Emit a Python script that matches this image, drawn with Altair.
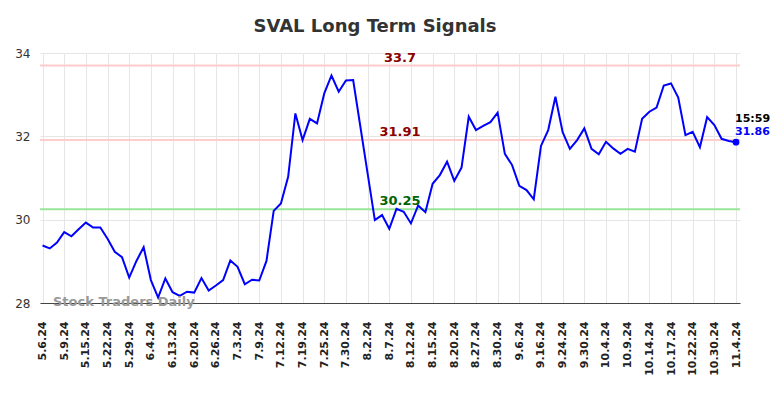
import altair as alt
import pandas as pd

values = [29.38, 29.31, 29.45, 29.70, 29.60, 29.77, 29.93, 29.81, 29.81, 29.54,
          29.23, 29.10, 28.61, 29.01, 29.34, 28.55, 28.13, 28.59, 28.26, 28.17,
          28.27, 28.25, 28.60, 28.30, 28.42, 28.55, 29.02, 28.87, 28.45, 28.56,
          28.54, 29.01, 30.21, 30.39, 31.03, 32.55, 31.91, 32.42, 32.31, 33.03,
          33.46, 33.07, 33.34, 33.35, 32.23, 31.11, 29.99, 30.11, 29.78, 30.26,
          30.19, 29.91, 30.34, 30.18, 30.86, 31.07, 31.39, 30.93, 31.25, 32.47,
          32.15, 32.25, 32.34, 32.57, 31.58, 31.31, 30.81, 30.71, 30.49, 31.77,
          32.15, 32.95, 32.10, 31.70, 31.91, 32.19, 31.70, 31.57, 31.87, 31.71,
          31.58, 31.70, 31.63, 32.42, 32.59, 32.69, 33.22, 33.27, 32.93, 32.03,
          32.11, 31.74, 32.46, 32.27, 31.94, 31.89, 31.86]

tick_labels = ["5.6.24", "5.9.24", "5.15.24", "5.22.24", "5.29.24", "6.4.24",
               "6.13.24", "6.20.24", "6.26.24", "7.3.24", "7.9.24", "7.12.24",
               "7.19.24", "7.25.24", "7.30.24", "8.2.24", "8.7.24", "8.12.24",
               "8.15.24", "8.20.24", "8.27.24", "8.30.24", "9.6.24", "9.16.24",
               "9.24.24", "9.30.24", "10.4.24", "10.9.24", "10.14.24", "10.17.24",
               "10.22.24", "10.30.24", "11.4.24"]

level_values = [33.7, 31.91, 30.25]
level_labels = ["33.7", "31.91", "30.25"]
level_line_colors = ["#ffcccc", "#ffcccc", "#99e699"]
level_text_colors = ["#8b0000", "#8b0000", "#006400"]

last_time = "15:59"
watermark = "Stock Traders Daily"

df = pd.DataFrame({"i": list(range(len(values))), "v": values})
levels = pd.DataFrame({"v": level_values, "label": level_labels,
                       "lc": level_line_colors, "tc": level_text_colors})
last = df.tail(1).copy()
last["lbl"] = [f"{values[-1]:.2f}"]
last["time"] = [last_time]

arr = "[" + ",".join(f"'{t}'" for t in tick_labels) + "]"

xscale = alt.Scale(domain=[-0.35, 96.55], nice=False, zero=False)
yscale = alt.Scale(domain=[28, 34], nice=False, zero=False)

xaxis = alt.Axis(values=list(range(0, 97, 3)), tickCount=100,
                 labelExpr=f"{arr}[round(datum.value/3)]",
                 labelAngle=-90, labelAlign="right", labelBaseline="middle",
                 labelPadding=18, ticks=False, title=None, domainColor="#444444",
                 domainWidth=1.2, gridColor="#e6e6e6", labelFontSize=11,
                 labelOverlap=False, labelBound=False, labelFlush=False,
                 labelColor="#222222", labelFont="DejaVu Sans", labelFontWeight="bold")
yaxis = alt.Axis(values=[28, 30, 32, 34], ticks=False, title=None, domain=False,
                 labelPadding=10, gridColor="#e6e6e6", labelFontSize=12,
                 labelColor="#333333", labelFont="DejaVu Sans")

base = alt.Chart(df)

grid = base.mark_line(opacity=0).encode(
    x=alt.X("i:Q", scale=xscale, axis=xaxis),
    y=alt.Y("v:Q", scale=yscale, axis=yaxis),
)

rules = alt.Chart(levels).mark_rule(strokeWidth=2).encode(
    y=alt.Y("v:Q", scale=yscale),
    color=alt.Color("lc:N", scale=None),
)

level_text = alt.Chart(levels).mark_text(
    fontSize=13, fontWeight="bold", font="DejaVu Sans", dy=-8, baseline="middle"
).encode(
    x=alt.value(360),
    y=alt.Y("v:Q", scale=yscale),
    text="label:N",
    color=alt.Color("tc:N", scale=None),
)

line = base.mark_line(color="#0000ff", strokeWidth=2).encode(
    x=alt.X("i:Q", scale=xscale),
    y=alt.Y("v:Q", scale=yscale),
)

dot = alt.Chart(last).mark_point(filled=True, size=45, color="#0000ff", opacity=1).encode(
    x=alt.X("i:Q", scale=xscale),
    y=alt.Y("v:Q", scale=yscale),
)

time_text = alt.Chart(last).mark_text(
    align="left", fontSize=11, fontWeight="bold", font="DejaVu Sans",
    color="#000000", dx=-1, dy=-23
).encode(x=alt.X("i:Q", scale=xscale), y=alt.Y("v:Q", scale=yscale), text="time:N")

val_text = alt.Chart(last).mark_text(
    align="left", fontSize=11, fontWeight="bold", font="DejaVu Sans",
    color="#0000ff", dx=-1, dy=-10
).encode(x=alt.X("i:Q", scale=xscale), y=alt.Y("v:Q", scale=yscale), text="lbl:N")

wm = alt.Chart(pd.DataFrame({"t": [watermark]})).mark_text(
    align="left", baseline="middle", fontSize=13, fontWeight="bold",
    font="DejaVu Sans", color="#999999"
).encode(x=alt.value(13), y=alt.value(249), text="t:N")

chart = alt.layer(grid, rules, level_text, line, dot, time_text, val_text, wm).properties(
    width=700, height=250,
    title=alt.TitleParams("SVAL Long Term Signals", fontSize=18, fontWeight="bold",
                          font="DejaVu Sans", color="#333333", anchor="middle",
                          dx=-15, offset=11),
    autosize=alt.AutoSizeParams(type="none"),
    padding={"left": 32, "top": 45, "right": 36, "bottom": 87},
).configure_view(stroke=None)

chart.save("out.html", embed_options={"renderer": "svg", "actions": False})
